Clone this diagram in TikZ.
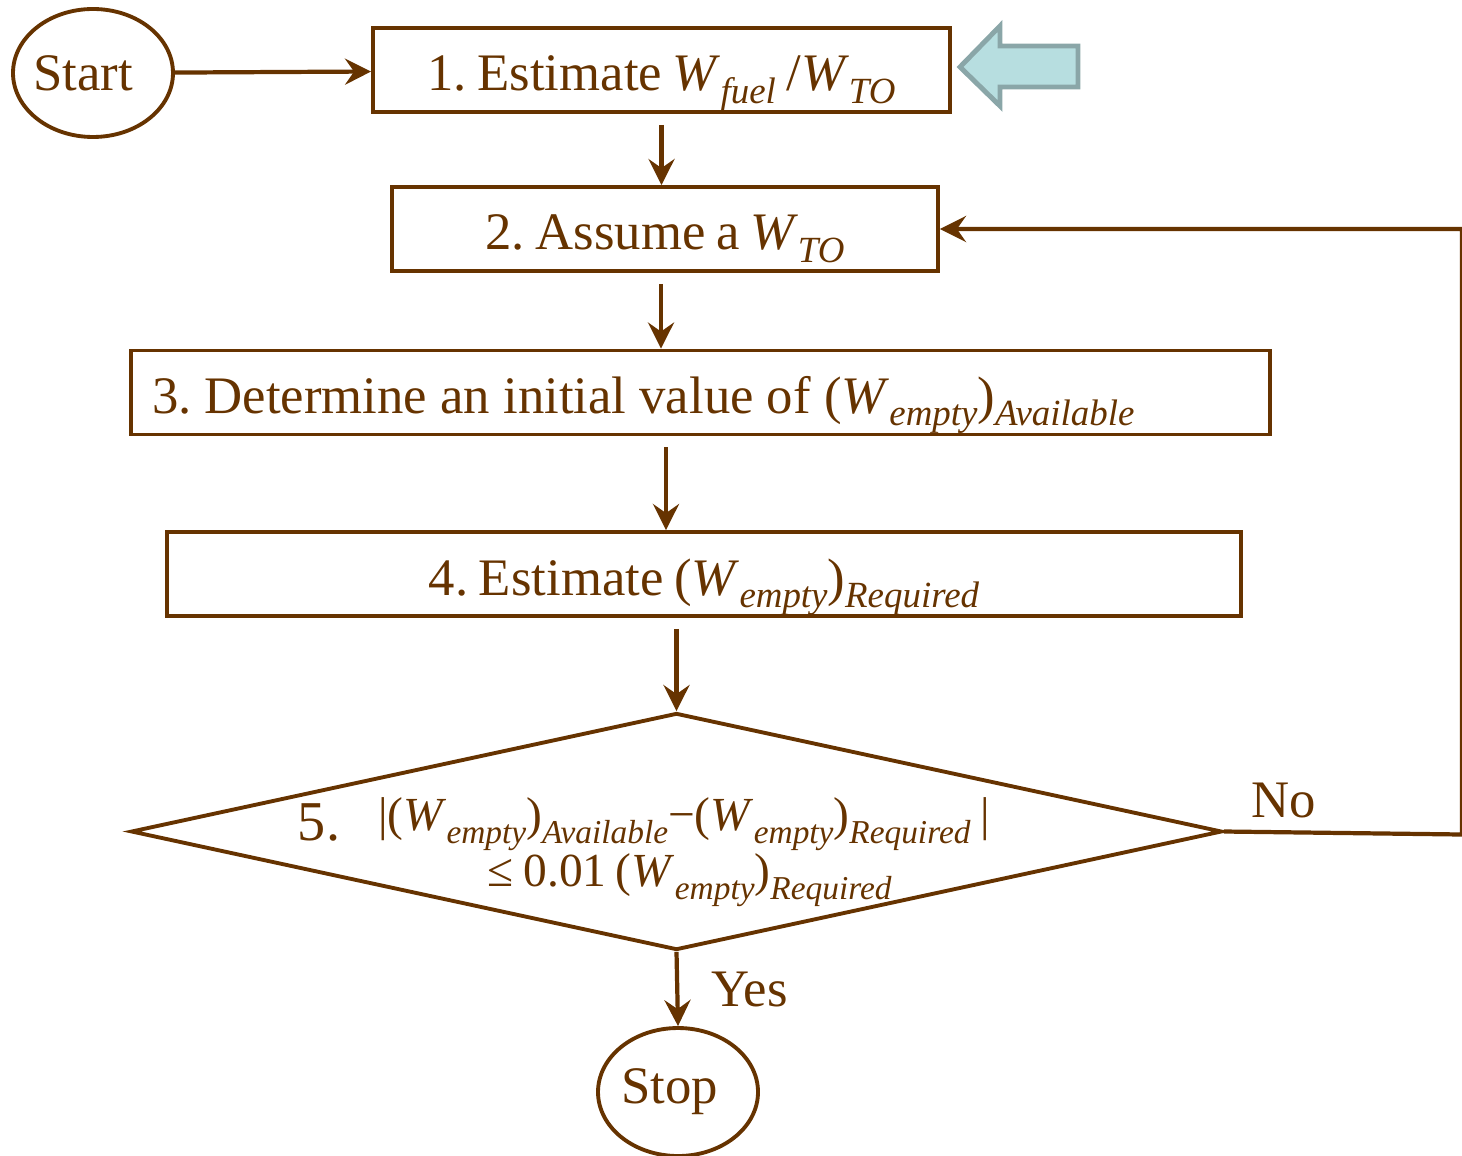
\documentclass[tikz,border=0pt]{standalone}
\usepackage{fontspec}
\setmainfont{Liberation Serif}
\usetikzlibrary{shapes.geometric, arrows.meta}
\newcommand{\lowsub}[2][10.5]{\raisebox{-3.5pt}{\fontsize{#1}{12}\selectfont\itshape #2}}
\newcommand{\tightspaces}{\spaceskip=0.2em\relax}
\frenchspacing

\begin{document}
\begin{tikzpicture}[line width=1.1pt, font=\fontsize{15}{18}\selectfont\tightspaces,
        flow/.style={-{Stealth[length=2.6mm, width=2.6mm, inset=0.9mm]}, draw=flowbrown, line width=1.2pt},
        stepbox/.style={draw=flowbrown, rectangle, minimum height=0.84cm, inner sep=0pt, text height=0.63cm, text depth=0.21cm, text=flowbrown},
        terminal/.style={draw=flowbrown, ellipse, minimum width=1.6cm, minimum height=1.28cm, inner sep=0pt, text=flowbrown},
        decision/.style={draw=flowbrown, diamond, minimum width=10.91cm, minimum height=2.37cm, inner sep=0pt},
        hintarrow/.style={fill=hintblue, draw=hintgray, line width=1.4pt, line join=miter}]
        % Colores
        \definecolor{flowbrown}{RGB}{102, 51, 0}
        \definecolor{hintblue}{RGB}{183, 222, 224}
        \definecolor{hintgray}{RGB}{138, 166, 168}

        \useasboundingbox (0,0) rectangle (14.62,-11.55);

        % Nodos
        \node[terminal] (start) at (0.93,-0.73) {\hspace*{-0.2cm}Start};
        \node[stepbox, minimum width=5.77cm] (est) at (6.615,-0.70) {1. Estimate \textit{W}\lowsub{fuel} /\textit{W}\lowsub{TO}};
        \node[stepbox, minimum width=5.46cm] (assume) at (6.65,-2.29) {2. Assume a \textit{W}\lowsub{TO}};
        \node[stepbox, minimum width=11.39cm, inner xsep=0.21cm, text width=10.97cm, align=flush left, font=\fontsize{15}{18}\selectfont] (initial) at (7.005,-3.925) {3. Determine an initial value of (\textit{W}\lowsub{empty})\lowsub{Available}};
        \node[stepbox, minimum width=10.74cm] (required) at (7.04,-5.74) {4. Estimate (\textit{W}\lowsub{empty})\lowsub{Required}};
        \node[decision] (check) at (6.765,-8.315) {};
        \node[text=flowbrown, font=\fontsize{13.5}{14.5}\selectfont\tightspaces, align=left, anchor=north west, inner sep=0pt] (checktext) at (2.96,-7.96) {\raisebox{-0.1cm}{\fontsize{16}{17}\selectfont 5.}\hspace{0.38cm}|(\textit{W}\lowsub[9.5]{empty})\lowsub[9.5]{Available}−(\textit{W}\lowsub[9.5]{empty})\lowsub[9.5]{Required} |\\
            \hspace{1.9cm}≤ 0.01 (\textit{W}\lowsub[9.5]{empty})\lowsub[9.5]{Required}};
        \node[terminal] (stop) at (6.78,-10.92) {\hspace*{-0.16cm}Stop};

        % Flecha de indicacion
        \draw[hintarrow] (9.60,-0.67) -- (10.00,-0.26) -- (10.00,-0.46) -- (10.78,-0.46) -- (10.78,-0.87) -- (10.00,-0.87) -- (10.00,-1.06) -- cycle;

        % Conexiones
        \draw[flow] (start) -- (est);
        \draw[flow, shorten <=0.11cm] (est.south) -- (est.south |- assume.north);
        \draw[flow, shorten <=0.11cm] ([xshift=-0.04cm]assume.south) -- ([xshift=-0.04cm]assume.south |- initial.north);
        \draw[flow, shorten <=0.11cm] ([xshift=-0.345cm]initial.south) -- ([xshift=-0.345cm]initial.south |- required.north);
        \draw[flow, shorten <=0.11cm] (check.north |- required.south) -- (check.north);
        \draw[flow] (check.south) -- node[right=0.2cm, text=flowbrown] {Yes} (stop.north);

        % Retorno
        \draw[flow] (check.east) -- node[pos=0.25, above, text=flowbrown] {No} ++(2.38,-0.03) |- (assume.east);
\end{tikzpicture}
\end{document}
